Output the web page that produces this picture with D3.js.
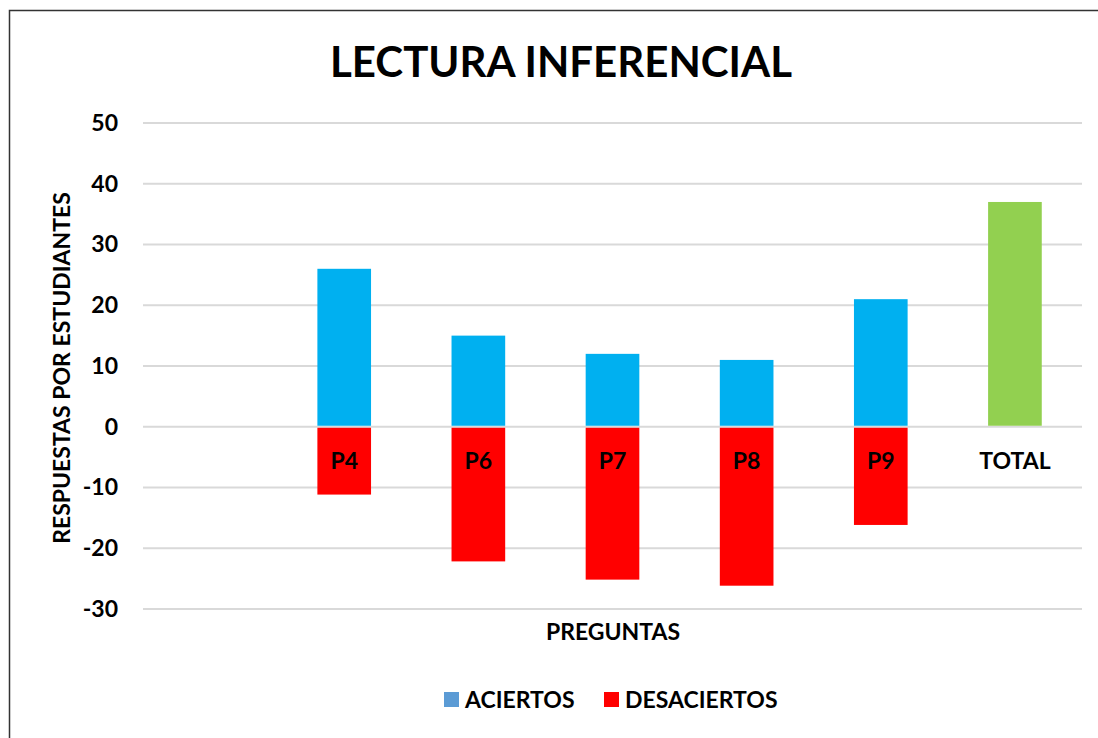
<!DOCTYPE html>
<html>
<head>
<meta charset="utf-8">
<script src="https://d3js.org/d3.v7.min.js"></script>
<style>
  body { margin: 0; background: #fff; }
  text { font-family: Lato, "Open Sans", sans-serif; font-weight: bold; fill: #000; }
</style>
</head>
<body>
<script>

var w = 1098, h = 738;

// data
var categories = ["", "P4", "P6", "P7", "P8", "P9", "TOTAL"];
var aciertos    = [null, 26, 15, 12, 11, 21, null];
var desaciertos = [null, -11, -22, -25, -26, -16, null];
var total       = [null, null, null, null, null, null, 37];
var yTicks = [-30, -20, -10, 0, 10, 20, 30, 40, 50];

var margin = {left: 143, right: 16, top: 123, bottom: 129};

var svg = d3.select("body").append("svg").attr("width", w).attr("height", h);

// frame (top + left edges visible)
svg.append("path").attr("d", "M9.5," + h + "V10.5H" + w)
  .attr("fill", "none").attr("stroke", "#333").attr("stroke-width", 1.5);

var x = d3.scaleBand().domain(categories.map(function(d, i){ return i; }))
  .range([margin.left, w - margin.right]).paddingInner(0.6).paddingOuter(0.3);

var y = d3.scaleLinear().domain([-30, 50]).range([h - margin.bottom, margin.top]);

// gridlines
svg.append("g").selectAll("line").data(yTicks).enter().append("line")
  .attr("x1", margin.left).attr("x2", w - margin.right)
  .attr("y1", function(d){ return y(d); }).attr("y2", function(d){ return y(d); })
  .attr("stroke", "#d9d9d9").attr("stroke-width", 2);

// y axis labels
var yAxis = svg.append("g").attr("transform", "translate(" + (margin.left - 25) + ",0)")
  .call(d3.axisLeft(y).tickValues(yTicks).tickSize(0).tickPadding(0).tickFormat(function(d){ return String(d); }));
yAxis.select(".domain").remove();
yAxis.selectAll("text").attr("font-size", 23).style("font-family", "Lato, 'Open Sans', sans-serif");

function bars(vals, color){
  svg.append("g").selectAll("rect")
    .data(vals.map(function(v, i){ return {i: i, v: v}; }).filter(function(d){ return d.v != null; }))
    .enter().append("rect")
    .attr("x", function(d){ return x(d.i); })
    .attr("width", x.bandwidth())
    .attr("y", function(d){ return d.v >= 0 ? y(d.v) : y(0) + 1; })
    .attr("height", function(d){ return Math.abs(y(d.v) - y(0)) - (d.v >= 0 ? 1 : 0); })
    .attr("fill", color);
}
bars(aciertos, "#00b0f0");
bars(desaciertos, "#ff0000");
bars(total, "#92d050");

// category labels
var xAxis = svg.append("g").attr("transform", "translate(0," + y(0) + ")")
  .call(d3.axisBottom(x).tickFormat(function(i){ return categories[i]; }).tickSize(0).tickPadding(26));
xAxis.select(".domain").remove();
xAxis.selectAll("text").attr("font-size", 23).style("font-family", "Lato, 'Open Sans', sans-serif");

// title
svg.append("text").attr("x", 561).attr("y", 77).attr("text-anchor", "middle")
  .attr("font-size", 42).text("LECTURA INFERENCIAL");

// axis titles
svg.append("text").attr("x", 613).attr("y", 640).attr("text-anchor", "middle")
  .attr("font-size", 23).text("PREGUNTAS");
svg.append("text").attr("transform", "translate(70,368) rotate(-90)").attr("text-anchor", "middle")
  .attr("font-size", 23).text("RESPUESTAS POR ESTUDIANTES");

// legend
var legend = [{name: "ACIERTOS", color: "#5b9bd5", x: 444}, {name: "DESACIERTOS", color: "#ff0000", x: 604}];
var lg = svg.append("g").selectAll("g").data(legend).enter().append("g")
  .attr("transform", function(d){ return "translate(" + d.x + ",692)"; });
lg.append("rect").attr("width", 15).attr("height", 15).attr("fill", function(d){ return d.color; });
lg.append("text").attr("x", 21).attr("y", 16).attr("font-size", 23).text(function(d){ return d.name; });

</script>
</body>
</html>
